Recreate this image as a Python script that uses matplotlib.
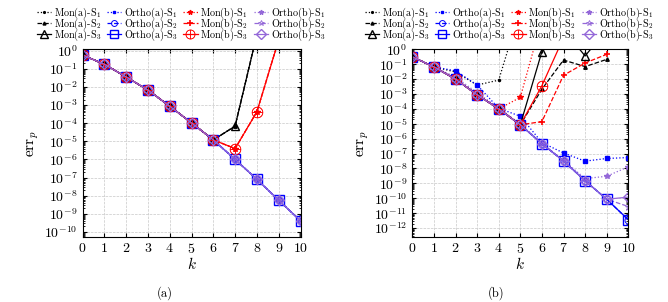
import numpy as np
import matplotlib
matplotlib.use("Agg")
import matplotlib.pyplot as plt
from matplotlib.ticker import LogLocator, NullFormatter

plt.rcParams['font.family'] = 'cmr10'
plt.rcParams['mathtext.fontset'] = 'cm'
plt.rcParams['axes.formatter.use_mathtext'] = True

nan = np.nan
k = list(range(11))

# ====== panel (a) ======
a_main = [5.8e-1, 1.8e-1, 3.6e-2, 6.8e-3, 8.7e-4, 1.05e-4, 1.2e-5, 1.0e-6, 8.0e-8, 5.6e-9, 4.1e-10]
a_mon_a = [5.8e-1, 1.8e-1, 3.6e-2, 6.8e-3, 8.7e-4, 1.05e-4, 1.2e-5, 6.9e-5, 8.0, nan, nan]
a_mon_b = [5.8e-1, 1.8e-1, 3.6e-2, 6.8e-3, 8.7e-4, 1.05e-4, 1.2e-5, 4.0e-6, 4.3e-4, 4.0, nan]

# ====== panel (b) ======
b_mon_a_s1 = [3.1e-1, 6.6e-2, 3.0e-2, 4.0e-3, 8.5e-3, 5e2, nan, nan, nan, nan, nan]
b_ortho_a_s1 = [3.1e-1, 6.6e-2, 3.6e-2, 4.0e-3, 1.1e-4, 3.2e-5, 5.5e-7, 1.1e-7, 3.1e-8, 4.7e-8, 5.4e-8]
b_mon_b_s1 = [3.1e-1, 6.6e-2, 1.0e-2, 8.9e-4, 1.0e-4, 5.9e-4, 1e2, nan, nan, nan, nan]
b_ortho_b_s1 = [3.1e-1, 6.6e-2, 1.4e-2, 1.2e-3, 1.2e-4, 9.5e-6, 5.0e-7, 3.5e-8, 2.1e-9, 3.0e-9, 1.3e-8]
b_mon_a_s2 = [3.1e-1, 6.6e-2, 1.0e-2, 8.9e-4, 1.0e-4, 8.5e-6, 2.1e-3, 1.9e-1, 6.9e-2, 2.1e-1, nan]
b_ortho_a_s2 = [3.1e-1, 6.6e-2, 1.0e-2, 8.9e-4, 1.0e-4, 8.5e-6, 4.6e-7, 3.2e-8, 1.5e-9, 8.6e-11, 3.6e-12]
b_mon_b_s2 = [3.1e-1, 6.6e-2, 1.0e-2, 8.9e-4, 1.0e-4, 8.5e-6, 1.4e-5, 1.8e-2, 1.2e-1, 4.6e-1, nan]
b_ortho_b_s2 = [3.1e-1, 6.6e-2, 1.0e-2, 8.9e-4, 1.0e-4, 8.5e-6, 4.6e-7, 3.2e-8, 1.5e-9, 8.6e-11, 2.8e-11]
b_mon_a_s3 = [3.1e-1, 6.6e-2, 1.0e-2, 8.9e-4, 1.0e-4, 8.5e-6, 7.0e-1, 2e1, 3.6e-1, 2e1, nan]
b_ortho_a_s3 = [3.1e-1, 6.6e-2, 1.0e-2, 8.9e-4, 1.0e-4, 8.5e-6, 4.6e-7, 3.2e-8, 1.5e-9, 8.6e-11, 3.6e-12]
b_mon_b_s3 = [3.1e-1, 6.6e-2, 1.0e-2, 8.9e-4, 1.0e-4, 8.5e-6, 3.6e-3, 6.0, nan, nan, nan]
b_ortho_b_s3 = [3.1e-1, 6.6e-2, 1.0e-2, 8.9e-4, 1.0e-4, 8.5e-6, 4.6e-7, 3.2e-8, 1.5e-9, 8.6e-11, 1.2e-10]

groups = ['Mon(a)', 'Ortho(a)', 'Mon(b)', 'Ortho(b)']
colors = {'Mon(a)': 'black', 'Ortho(a)': '#0000ff', 'Mon(b)': '#ff0000', 'Ortho(b)': '#9468d8'}
styles = {1: ':', 2: '--', 3: '-'}
markers = {
    ('Mon(a)', 1): dict(marker='.', ms=3),
    ('Mon(a)', 2): dict(marker='^', ms=2.5),
    ('Mon(a)', 3): dict(marker='^', ms=6, mfc='none'),
    ('Ortho(a)', 1): dict(marker='s', ms=2.5),
    ('Ortho(a)', 2): dict(marker='o', ms=5, mfc='none', mew=0.7),
    ('Ortho(a)', 3): dict(marker='s', ms=7, mfc='none'),
    ('Mon(b)', 1): dict(marker='*', ms=4),
    ('Mon(b)', 2): dict(marker='+', ms=5, mew=1.2),
    ('Mon(b)', 3): dict(marker=r'$\oplus$', ms=8, mew=0.3),
    ('Ortho(b)', 1): dict(marker='*', ms=4),
    ('Ortho(b)', 2): dict(marker='*', ms=5, mfc='none', mew=0.6),
    ('Ortho(b)', 3): dict(marker='D', ms=5.5, mfc='none'),
}

data_a = {}
for g in groups:
    for s in (1, 2, 3):
        if g == 'Mon(a)':
            data_a[(g, s)] = a_mon_a
        elif g == 'Mon(b)':
            data_a[(g, s)] = a_mon_b
        else:
            data_a[(g, s)] = a_main

data_b = {
    ('Mon(a)', 1): b_mon_a_s1, ('Ortho(a)', 1): b_ortho_a_s1,
    ('Mon(b)', 1): b_mon_b_s1, ('Ortho(b)', 1): b_ortho_b_s1,
    ('Mon(a)', 2): b_mon_a_s2, ('Ortho(a)', 2): b_ortho_a_s2,
    ('Mon(b)', 2): b_mon_b_s2, ('Ortho(b)', 2): b_ortho_b_s2,
    ('Mon(a)', 3): b_mon_a_s3, ('Ortho(a)', 3): b_ortho_a_s3,
    ('Mon(b)', 3): b_mon_b_s3, ('Ortho(b)', 3): b_ortho_b_s3,
}

fig = plt.figure(figsize=(6.68, 3.02), dpi=100)
W, H = 668.0, 302.0
ax_a = fig.add_axes([82.5 / W, 1 - 237 / H, 218 / W, (237 - 49.3) / H])
ax_b = fig.add_axes([412.3 / W, 1 - 237 / H, 216 / W, (237 - 49.3) / H])


def draw(ax, data, ylim, yticks, leg_x):
    handles = {}
    for s in (1, 2, 3):
        for g in groups:
            m = dict(markers[(g, s)])
            lab = r'$\mathrm{%s}\text{-}\mathrm{S}_{%d}$' % (g, s)
            line, = ax.plot(k, data[(g, s)], color=colors[g], ls=styles[s], lw=0.9,
                            label=lab, **m)
            handles[(g, s)] = line
    ax.set_yscale('log')
    ax.set_xlim(0, 10)
    ax.set_ylim(*ylim)
    ax.set_xticks(k)
    ax.set_yticks(yticks)
    ax.yaxis.set_minor_locator(LogLocator(base=10, subs=np.arange(2, 10), numticks=30))
    ax.yaxis.set_minor_formatter(NullFormatter())
    ax.tick_params(which='both', direction='in', top=True, right=True, labelsize=10)
    ax.tick_params(which='major', length=3)
    ax.tick_params(which='minor', length=1.5)
    ax.grid(True, which='major', ls='--', color='#c8c8c8', lw=0.5)
    ax.set_axisbelow(True)
    ax.set_xlabel('$k$', fontsize=11, labelpad=0)
    ax.set_ylabel(r'$\mathrm{err}_p$', fontsize=11, labelpad=2)
    order = [handles[(g, s)] for g in groups for s in (1, 2, 3)]
    fig.legend(handles=order, labels=[h.get_label() for h in order], ncol=4,
               loc='upper left', bbox_to_anchor=(leg_x / W, 1 - 5.5 / H), frameon=False,
               fontsize=7.3, handlelength=1.4, handletextpad=0.25, markerscale=0.85,
               columnspacing=0.55, labelspacing=-0.42, borderpad=0.0, borderaxespad=0.0)


draw(ax_a, data_a, (10 ** -10.28, 10 ** 0.08), [10.0 ** e for e in range(0, -11, -1)], 37)
draw(ax_b, data_b, (10 ** -12.6, 10 ** 0.0), [10.0 ** e for e in range(0, -13, -1)], 365)

fig.text(165 / W, 1 - 293 / H, '(a)', ha='center', va='center', fontsize=9)
fig.text(496 / W, 1 - 293 / H, '(b)', ha='center', va='center', fontsize=9)

fig.savefig('out.png', dpi=100)
